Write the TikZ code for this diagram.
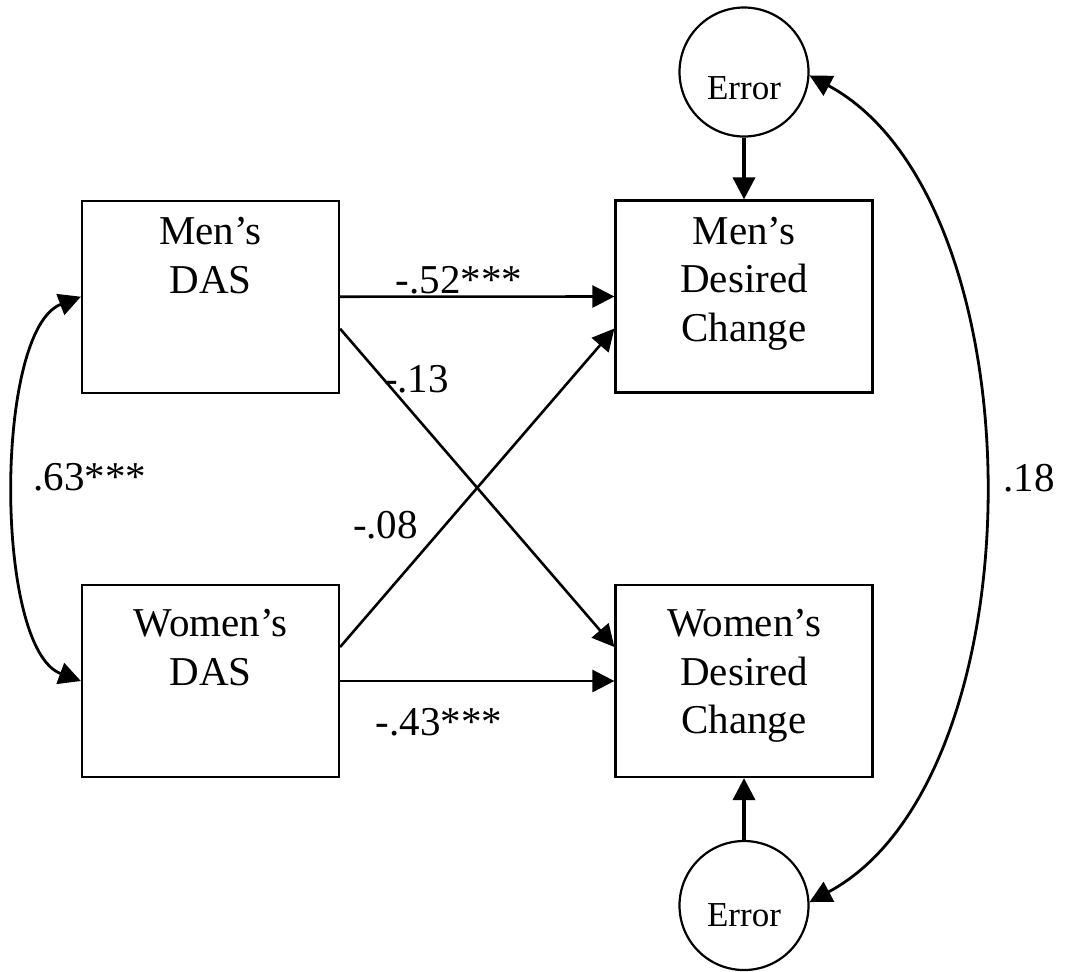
\documentclass[tikz,border=0pt]{standalone}
\usepackage{fontspec}
\setmainfont{Liberation Serif}
\usetikzlibrary{arrows.meta}

\begin{document}
\begin{tikzpicture}[x=0.5pt, y=-0.5pt,
                        >={Triangle[length=11pt,width=11pt]},
                        box/.style={draw, line width=1.1pt, minimum width=128.5pt, minimum height=96pt, inner sep=0pt},
                        errc/.style={draw, circle, line width=1.1pt, minimum size=64.5pt, inner sep=0pt},
                        boxtext/.style={anchor=north, align=center, inner sep=0pt, font=\fontsize{20.5}{24.25}\selectfont},
                        errtext/.style={anchor=base, inner sep=0pt, font=\fontsize{17.5}{20}\selectfont},
                        coef/.style={anchor=base, inner sep=0pt, font=\fontsize{20.5}{24.25}\selectfont},
                        effect/.style={->, line width=1.3pt}]
                        \useasboundingbox (0,0) rectangle (1068,971);
                        \node [box] (mdas) at (210.5,296.7) {};
                        \node [box] (wdas) at (210.5,681) {};
                        \node [box] (mdc) at (744,296.5) {};
                        \node [box] (wdc) at (744,681) {};
                        \node [errc] (merr) at (744,72) {};
                        \node [errc] (werr) at (744,905.5) {};
                        \node [boxtext] (mdastext) at ([yshift=-8.7pt]mdas.north) {Men’s\\DAS};
                        \node [boxtext] (wdastext) at ([yshift=-12.7pt]wdas.north) {Women’s\\DAS};
                        \node [boxtext] (mdctext) at ([yshift=-8.7pt]mdc.north) {Men’s\\Desired\\Change};
                        \node [boxtext] (wdctext) at ([yshift=-12.7pt]wdc.north) {Women’s\\Desired\\Change};
                        \node [errtext] (merrtext) at ([yshift=-13.5pt]merr.center) {Error};
                        \node [errtext] (werrtext) at ([yshift=-10.7pt]werr.center) {Error};
                        \draw [effect] (mdas.east) -- (mdc.west);
                        \draw [effect] (wdas.east) -- (wdc.west);
                        \draw [effect] ([yshift=-16pt]mdas.east) -- ([yshift=17pt]wdc.west);
                        \draw [effect] ([yshift=17pt]wdas.east) -- ([yshift=-16pt]mdc.west);
                        \draw [->, line width=1.8pt] (merr) -- (mdc);
                        \draw [->, line width=1.8pt] (werr) -- (wdc);
                        \draw [<->, line width=1.4pt] (mdas.west) .. controls +(-87,33) and +(-87,-32) .. (wdas.west);
                        \draw [<->, line width=1.4pt] (merr.-3) .. controls +(232,125) and +(232,-124) .. (werr.3);
                        \node [coef] (c52) at (459,293) {-.52***};
                        \node [coef] (c13) at (416.5,392) {-.13};
                        \node [coef] (c63) at (90,490) {.63***};
                        \node [coef] (c08) at (385.5,538) {-.08};
                        \node [coef] (c43) at (439,735) {-.43***};
                        \node [coef] (c18) at (1029,491) {.18};
                    \end{tikzpicture}
\end{document}
